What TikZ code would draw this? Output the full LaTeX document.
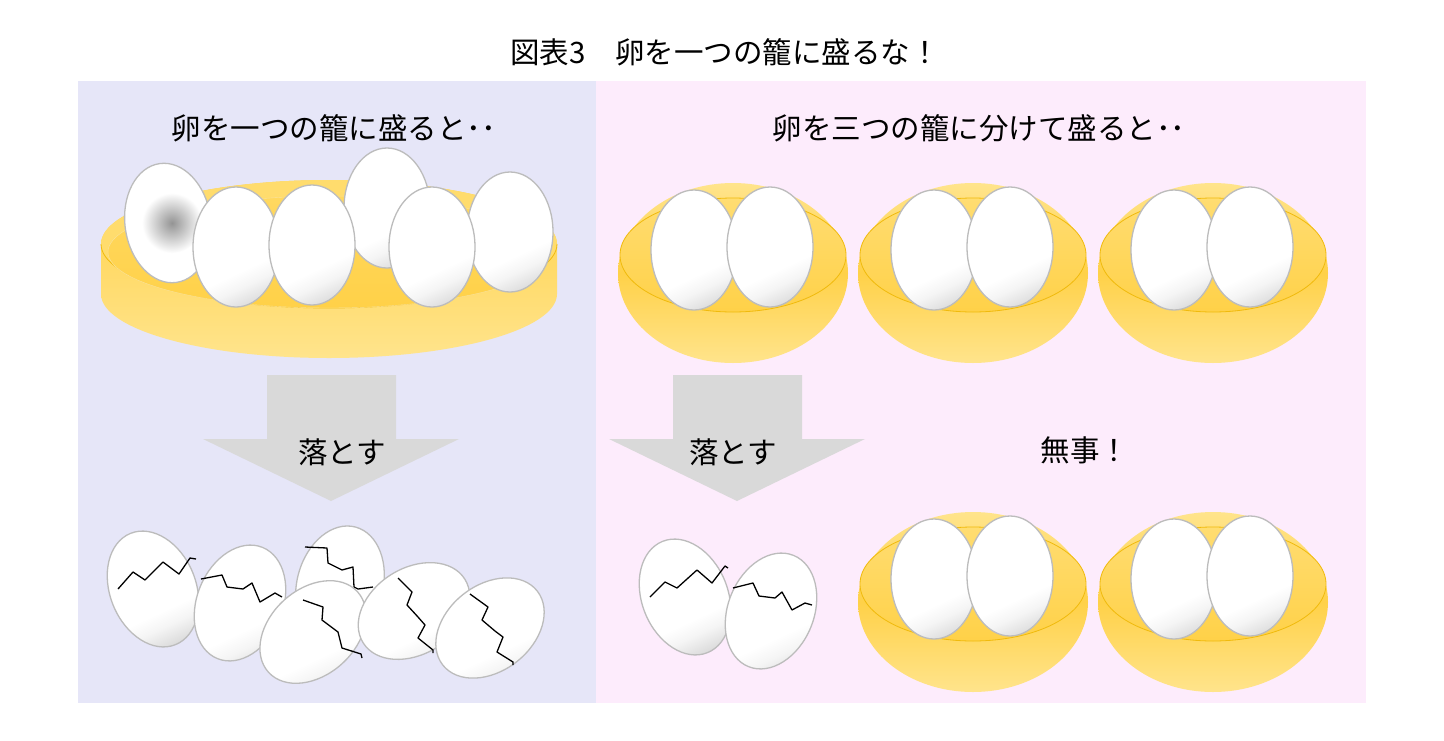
\documentclass[tikz,border=0pt]{standalone}
\usepackage{fontspec}
\setmainfont{Noto Sans CJK JP}
\usepackage{tikz}
\usetikzlibrary{positioning}
\usepackage{xcolor}
\definecolor{leftbg}{RGB}{230,230,248}
\definecolor{rightbg}{RGB}{253,236,252}
\definecolor{arrowgray}{RGB}{217,217,217}
\definecolor{basketlight}{RGB}{255,228,140}
\definecolor{basketmid}{RGB}{255,216,96}
\definecolor{basketdark}{RGB}{255,209,72}
\definecolor{rimline}{RGB}{240,186,12}
\definecolor{eggline}{RGB}{188,188,188}
\definecolor{eggshadow}{RGB}{200,200,200}
\pgfdeclareverticalshading{eggshade}{100bp}{color(0bp)=(eggshadow); color(22bp)=(black!15); color(32bp)=(black!4); color(39bp)=(white); color(100bp)=(white)}
\newcommand{\eggat}[3]{\shade[egg, rotate around={#3:(#1,#2)}] (#1,#2) ellipse [x radius=43, y radius=60];}
\newcommand{\droparrow}[1]{\fill[arrowgray] ({#1-64},375) -- ({#1+65},375) -- ({#1+65},439) -- ({#1+128},439) -- (#1,501) -- ({#1-128},439) -- ({#1-64},439) -- cycle;}

\begin{document}
\begin{tikzpicture}[x=1pt, y=-1pt,
    egg/.style={draw=eggline, line width=1.3pt, shading=eggshade, shading angle=25},
    crack/.style={draw=black, line width=1.3pt, line join=round},
    label/.style={font=\fontsize{29.5}{29.5}\selectfont, inner sep=0pt}]
    \useasboundingbox (0,0) rectangle (1444,740);
    \fill[white] (0,0) rectangle (1444,740);
    \fill[leftbg] (78,81) rectangle (596,703);
    \fill[rightbg] (596,81) rectangle (1366,703);

    \path[top color=basketdark, bottom color=basketlight] (101,294) arc[start angle=180, end angle=0, x radius=228, y radius=64] -- (557,244) arc[start angle=0, end angle=-180, x radius=228, y radius=64] -- cycle;
    \fill[basketmid!70!basketlight] (329,244) ellipse [x radius=228, y radius=64];
    \draw[rimline, line width=0.8pt] (101,244) arc[start angle=180, end angle=0, x radius=228, y radius=64];
    \path[draw=rimline!40, top color=basketmid, bottom color=basketdark] (329,252) ellipse [x radius=221, y radius=56];

    \draw[eggline, line width=1.3pt, fill=white, rotate around={8:(168,223)}] (168,223) ellipse [x radius=43, y radius=60];
    \shade[inner color=black!42, outer color=white] (172,223) circle (30);
    \foreach \ex/\ey in {387/208, 510/232, 236/247, 312/245, 432/247} {
        \eggat{\ex}{\ey}{0}
    }

    \foreach \bx/\by in {733/0, 973/0, 1213/0, 973/329, 1213/329} {
        \path[top color=basketlight, bottom color=basketlight, middle color=basketdark] (\bx,{273+\by}) ellipse [x radius=115, y radius=90];
        \path[draw=rimline, line width=0.8pt, top color=basketmid!60!basketlight, bottom color=basketdark] (\bx,{255+\by}) ellipse [x radius=113, y radius=57];
        \eggat{{\bx-39}}{{250+\by}}{0}
        \eggat{{\bx+37}}{{247+\by}}{0}
    }

    \droparrow{331}
    \droparrow{737}

    \node[label] (title) at (725,52) {図表3　卵を一つの籠に盛るな！};
    \node[label] (onebasket) at (334,128) {卵を一つの籠に盛ると･･};
    \node[label] (threebaskets) at (979,128) {卵を三つの籠に分けて盛ると･･};
    \node[label] (dropleft) at (342,452) {落とす};
    \node[label] (dropright) at (733,452) {落とす};
    \node[label] (safe) at (1085,450) {無事！};

    \eggat{153}{589}{22}
    \draw[crack] (118,589) -- (133,572) -- (145,580) -- (163,562) -- (179,574) -- (190,558) -- (196,559);
    \eggat{240}{603}{-22}
    \draw[crack] (201,579) -- (222,575) -- (227,587) -- (243,589) -- (252,583) -- (260,602) -- (275,593) -- (282,597);
    \eggat{340}{585}{-15}
    \draw[crack] (305,547) -- (327,548) -- (328,563) -- (342,570) -- (353,567) -- (354,587) -- (358,589) -- (373,587);
    \eggat{313}{632}{-48}
    \draw[crack] (303,600) -- (323,607) -- (322,620) -- (338,632) -- (342,648) -- (361,654) -- (362,658);
    \eggat{414}{611}{-58}
    \draw[crack] (398,578) -- (412,592) -- (407,605) -- (418,617) -- (425,625) -- (418,638) -- (433,650) -- (433,653);
    \eggat{490}{628}{-52}
    \draw[crack] (470,594) -- (488,607) -- (482,620) -- (495,631) -- (503,637) -- (497,652) -- (513,662) -- (513,665);

    \eggat{685}{597}{22}
    \draw[crack] (650,597) -- (665,582) -- (677,588) -- (697,570) -- (712,583) -- (725,566) -- (728,568);
    \eggat{771}{611}{-22}
    \draw[crack] (733,588) -- (753,583) -- (759,596) -- (775,598) -- (782,592) -- (792,610) -- (805,603) -- (812,605);
\end{tikzpicture}
\end{document}
